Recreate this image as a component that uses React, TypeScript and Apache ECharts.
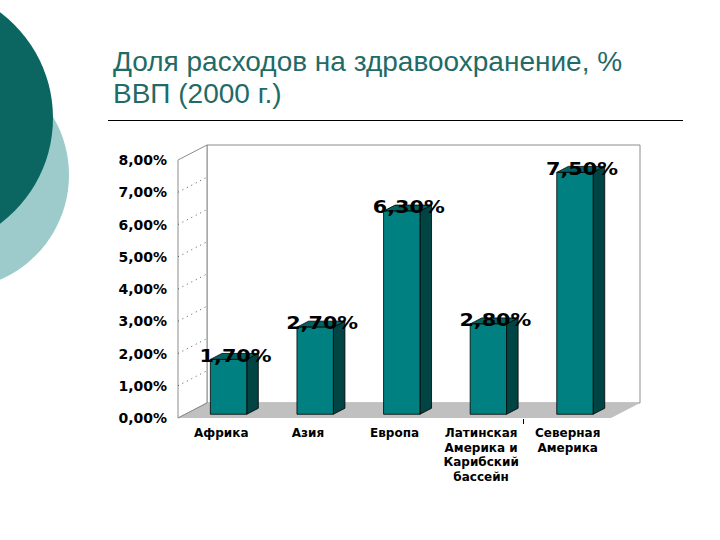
import React, { useEffect, useRef } from "react";
import * as echarts from "echarts";

const categories = [
  "Африка",
  "Азия",
  "Европа",
  "Латинская\nАмерика и\nКарибский\nбассейн",
  "Северная\nАмерика",
];
const values = [1.7, 2.7, 6.3, 2.8, 7.5];
const yTicks = [0, 1, 2, 3, 4, 5, 6, 7, 8];
const titleLines = ["Доля расходов на здравоохранение, %", "ВВП (2000 г.)"];

const fmt = (v: number) => v.toFixed(2).replace(".", ",") + "%";

const DX = 29;
const DY = -15;

function renderFrame(params: any, api: any) {
  const cs = params.coordSys;
  const x0 = cs.x, y0 = cs.y, w = cs.width, h = cs.height, yb = y0 + h;
  const children: any[] = [
    {
      type: "rect",
      shape: { x: x0 + DX, y: y0 + DY, width: w, height: h },
      style: { fill: "#ffffff", stroke: "#8c8c8c", lineWidth: 1 },
    },
    {
      type: "polygon",
      shape: { points: [[x0, y0], [x0 + DX, y0 + DY], [x0 + DX, yb + DY], [x0, yb]] },
      style: { fill: "#ffffff", stroke: "#8c8c8c", lineWidth: 1 },
    },
    {
      type: "polygon",
      shape: { points: [[x0, yb], [x0 + DX, yb + DY], [x0 + w + DX, yb + DY], [x0 + w, yb]] },
      style: { fill: "#c0c0c0" },
    },
    {
      type: "line",
      shape: { x1: x0, y1: yb, x2: x0 + DX, y2: yb + DY },
      style: { stroke: "#8c8c8c", lineWidth: 1 },
    },
  ];
  yTicks.slice(1, yTicks.length - 1).forEach((v) => {
    const p = api.coord([0, v]);
    children.push({
      type: "line",
      shape: { x1: x0, y1: p[1], x2: x0 + DX, y2: p[1] + DY },
      style: { stroke: "#555555", lineWidth: 1, lineDash: [1, 4] },
    });
  });
  // single axis tick between the 4th and 5th categories
  const a = api.coord([3, 0]);
  const c = api.coord([4, 0]);
  const mx = Math.round((a[0] + c[0]) / 2) - 0.5;
  children.push({
    type: "line",
    shape: { x1: mx, y1: yb + 1, x2: mx, y2: yb + 6 },
    style: { stroke: "#000000", lineWidth: 1 },
  });
  return { type: "group", children };
}

function renderBar(params: any, api: any) {
  const i = api.value(0);
  const v = api.value(1);
  const b = api.coord([i, 0]);
  const t = api.coord([i, v]);
  const bw = api.size([1, 0])[0] * 0.42;
  const ox = DX * 0.25, oy = DY * 0.25, sx = DX * 0.4, sy = DY * 0.4;
  const fx = b[0] - bw / 2 + ox;
  const by = b[1] + oy;
  const ty = t[1] + oy;
  const line = { stroke: "#000000", lineWidth: 0.8 };
  return {
    type: "group",
    children: [
      {
        type: "polygon",
        shape: { points: [[fx + bw, ty], [fx + bw + sx, ty + sy], [fx + bw + sx, by + sy], [fx + bw, by]] },
        style: { fill: "#004444", ...line },
      },
      {
        type: "polygon",
        shape: { points: [[fx, ty], [fx + sx, ty + sy], [fx + bw + sx, ty + sy], [fx + bw, ty]] },
        style: { fill: "#006262", ...line },
      },
      {
        type: "rect",
        shape: { x: fx, y: ty, width: bw, height: by - ty },
        style: { fill: "#008080", ...line },
      },
      {
        type: "text",
        x: fx + bw / 2 + 7,
        y: ty - 4,
        scaleX: 1.22,
        style: {
          text: fmt(v),
          font: "bold 17px 'DejaVu Sans'",
          fill: "#000000",
          align: "center",
          verticalAlign: "middle",
        },
      },
    ],
  };
}

export default function App() {
  const ref = useRef<HTMLDivElement>(null);
  useEffect(() => {
    if (!ref.current) return;
    const chart = echarts.init(ref.current, undefined, { renderer: "svg" });
    chart.setOption({
      animation: false,
      backgroundColor: "#ffffff",
      grid: { left: 178, top: 160, width: 433, height: 258 },
      xAxis: {
        type: "category",
        data: categories,
        axisLine: { show: false },
        axisTick: { show: false },
        axisLabel: {
          interval: 0,
          margin: 8,
          fontFamily: "DejaVu Sans",
          fontWeight: "bold",
          fontSize: 12,
          lineHeight: 14.5,
          color: "#000000",
          verticalAlign: "top",
        },
        splitLine: { show: false },
      },
      yAxis: {
        type: "value",
        min: 0,
        max: 8,
        interval: 1,
        axisLine: { show: false },
        axisTick: { show: false },
        splitLine: { show: false },
        axisLabel: {
          formatter: (v: number) => fmt(v),
          margin: 11,
          fontFamily: "DejaVu Sans",
          fontWeight: "bold",
          fontSize: 14,
          color: "#000000",
        },
      },
      graphic: [
        { type: "circle", shape: { cx: -45, cy: 175, r: 114 }, style: { fill: "#9dcbcc" } },
        { type: "circle", shape: { cx: -79, cy: 118, r: 132 }, style: { fill: "#0b6662" } },
        {
          type: "text",
          x: 113,
          y: 61,
          style: {
            text: titleLines[0],
            font: "28px 'Liberation Sans'",
            fill: "#1f6b67",
            verticalAlign: "middle",
          },
        },
        {
          type: "text",
          x: 113,
          y: 93,
          style: {
            text: titleLines[1],
            font: "28px 'Liberation Sans'",
            fill: "#1f6b67",
            verticalAlign: "middle",
          },
        },
        {
          type: "line",
          shape: { x1: 108, y1: 120.5, x2: 683, y2: 120.5 },
          style: { stroke: "#000000", lineWidth: 1 },
        },
      ],
      series: [
        {
          type: "custom",
          name: "frame",
          z: 1,
          silent: true,
          renderItem: renderFrame,
          data: [[0, 0]],
        },
        {
          type: "custom",
          name: "Доля расходов",
          z: 2,
          renderItem: renderBar,
          data: values.map((v, i) => [i, v]),
        },
      ],
    });
    return () => chart.dispose();
  }, []);
  return <div ref={ref} style={{ position: "fixed", left: 0, top: 0, width: 720, height: 540 }} />;
}
